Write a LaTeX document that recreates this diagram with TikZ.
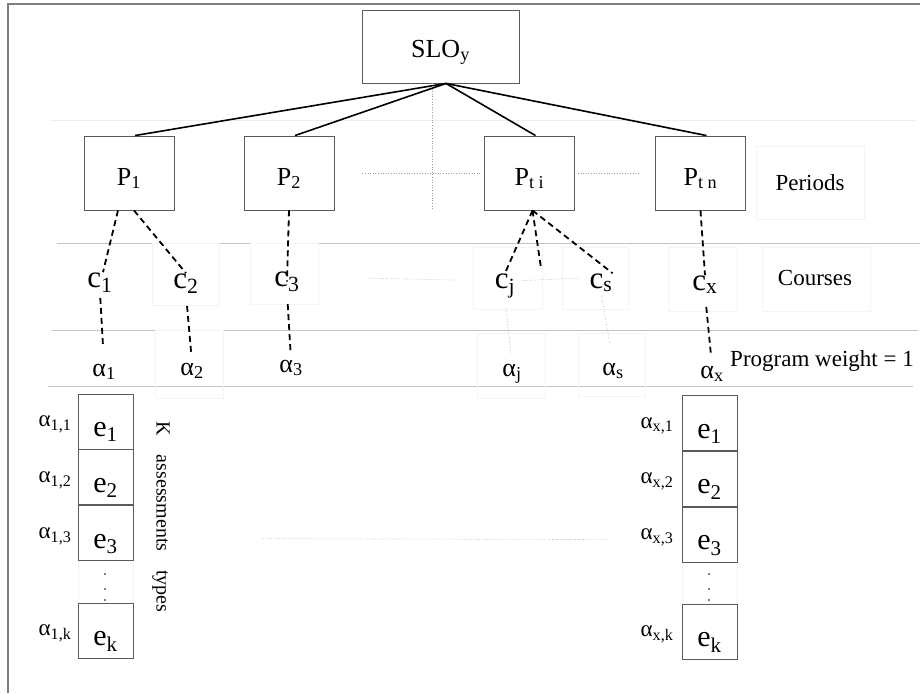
\documentclass[tikz,border=0pt]{standalone}
\usepackage{fontspec}
\setmainfont{Liberation Serif}
\usetikzlibrary{positioning}
\definecolor{ink}{HTML}{000000}
\definecolor{edge}{HTML}{5A5A5A}
\definecolor{frameline}{HTML}{7F7F7F}
\definecolor{ruleline}{HTML}{C4C4C4}
\definecolor{ghost}{HTML}{F4F4F4}
\definecolor{dotline}{HTML}{A0A0A0}
\newcommand{\fsz}[1]{\fontsize{#1}{#1}\selectfont}
\tikzset{
  box/.style={draw=edge,line width=0.9pt,fill=white,inner sep=0pt,text=ink},
  periodbox/.style={box,minimum width=90pt,minimum height=74pt,font=\fsz{26},
                    text height=24pt,text depth=0pt},
  evalbox/.style={box,minimum width=55pt,minimum height=55pt,font=\fsz{30},
                  text height=30pt,text depth=0pt},
  course/.style={inner sep=0pt,anchor=base,font=\fsz{31}},
  weight/.style={inner sep=0pt,anchor=base,font=\fsz{26}},
  rowlabel/.style={inner sep=0pt,anchor=base,font=\fsz{23}},
  evallabel/.style={inner sep=0pt,font=\fsz{23},text height=12pt,text depth=2pt},
  tree/.style={line width=1.6pt,draw=ink},
  dashlink/.style={line width=1.8pt,draw=ink,dash pattern=on 6pt off 4pt},
  faint/.style={line width=0.6pt,draw=dotline,dotted},
  rowrule/.style={line width=0.9pt,draw=ruleline},
  ghostbox/.style={draw=ghost,line width=0.5pt}
}

\begin{document}
\begin{tikzpicture}[x=1pt,y=-1pt]
  \useasboundingbox (0,0) rectangle (920,693);
  % frame and table rules
  \draw[draw=frameline,line width=1.4pt] (8,693) -- (8,4) -- (920,4);
  \draw[rowrule,draw=ruleline!30] (50,120) -- (915,120);
  \draw[rowrule] (57,243) -- (920,243);
  \draw[rowrule] (52,330) -- (918,330);
  \draw[rowrule] (48,386) -- (913,386);
  % leftover text frames
  \foreach \x/\y/\w/\h in {756/146/108/73, 152/243/67/62, 250/243/68/61, 155/330/68/68,
      473/247/69/62, 562/247/66/62, 668/247/69/64, 762/247/108/64, 477/333/68/65,
      578/333/67/63, 78/559/55/45, 682/561/55/43}
    \draw[ghostbox] (\x,\y) rectangle ++(\w,\h);

  % outcome and periods
  \node[box,minimum width=157pt,minimum height=73pt,font=\fsz{26},text height=21pt,text depth=0pt]
    (slo) at (440.5,46.5) {SLO\textsubscript{y}};
  \node[periodbox] (p1) at (129,173) {P\textsubscript{1}};
  \node[periodbox] (p2) at (289,173) {P\textsubscript{2}};
  \node[periodbox] (pti) at (529.5,173) {P\textsubscript{t i}};
  \node[periodbox] (ptn) at (700.5,173) {P\textsubscript{t n}};
  \node[rowlabel] (periods) at (810,190) {Periods};

  % courses
  \node[course] (c1) at (100,287) {c\textsubscript{1}};
  \node[course] (c2) at (186,288) {c\textsubscript{2}};
  \node[course] (c3) at (287,286) {c\textsubscript{3}};
  \node[course] (cj) at (505,288) {c\textsubscript{j}};
  \node[course] (cs) at (601,288) {c\textsubscript{s}};
  \node[course] (cx) at (705,290) {c\textsubscript{x}};
  \node[rowlabel] (courses) at (815,285) {Courses};
  \coordinate (cgap) at (541,268);

  % weights
  \node[weight] (a1) at (104,376) {α\textsubscript{1}};
  \node[weight] (a2) at (192,375) {α\textsubscript{2}};
  \node[weight] (a3) at (291,372) {α\textsubscript{3}};
  \node[weight] (aj) at (512,376) {α\textsubscript{j}};
  \node[weight] (as) at (613,375) {α\textsubscript{s}};
  \node[weight] (ax) at (712,378) {α\textsubscript{x}};
  \node[rowlabel] (progw) at (822,366) {Program weight = 1};

  % assessment stacks
  \node[evalbox] (l1) at (105.5,421.5) {e\textsubscript{1}};
  \node[evalbox,below=0pt of l1] (l2) {e\textsubscript{2}};
  \node[evalbox,below=0pt of l2] (l3) {e\textsubscript{3}};
  \node[evalbox] (lk) at (105.5,630.5) {e\textsubscript{k}};
  \node[evalbox] (r1) at (709.5,423) {e\textsubscript{1}};
  \node[evalbox,below=0pt of r1] (r2) {e\textsubscript{2}};
  \node[evalbox,below=0pt of r2] (r3) {e\textsubscript{3}};
  \node[evalbox] (rk) at (709.5,631.5) {e\textsubscript{k}};
  \foreach \n/\s in {l1/{1,1},l2/{1,2},l3/{1,3},lk/{1,k}}
    \node[evallabel,left=6pt of \n] (w\n) {α\textsubscript{\s}};
  \foreach \n/\s in {r1/{x,1},r2/{x,2},r3/{x,3},rk/{x,k}}
    \node[evallabel,left=8pt of \n] (w\n) {α\textsubscript{\s}};
  \foreach \y in {574,589,600} {
    \fill[ink] (105,\y) circle (0.9pt);
    \fill[ink] (709,\y) circle (0.9pt);
  }
  \node[font=\fsz{20},rotate=-90,inner sep=0pt] (ktypes) at (161,517)
    {K\hspace{0.95em}assessments\hspace{0.95em}types};

  % tree links
  \foreach \p in {p1,p2,pti,ptn}
    \draw[tree] ([xshift=5.5pt]slo.south) -- ([xshift=6pt]\p.north);
  \draw[dashlink] ([xshift=-11pt]p1.south) -- ([xshift=3pt]c1.north);
  \draw[dashlink] ([xshift=5pt]p1.south) -- (c2.north);
  \draw[dashlink] (p2.south) -- (c3.center);
  \draw[dashlink] ([xshift=3pt]pti.south) -- (cj.north);
  \draw[dashlink] ([xshift=3pt]pti.south) -- (cgap);
  \draw[dashlink] ([xshift=3pt]pti.south) -- (cs.north east);
  \draw[dashlink] (ptn.south) -- (cx.north);
  \draw[dashlink,shorten <=5pt,shorten >=18pt] (c1.south) -- (a1.north);
  \draw[dashlink,shorten <=12pt,shorten >=9pt] (c2.south) -- (a2.north);
  \draw[dashlink,shorten <=12pt,shorten >=9pt] (c3.south) -- (a3.north);
  \draw[dashlink,shorten <=13pt,shorten >=10pt] (cx.south) -- (ax.north);
  \draw[faint,shorten <=10pt,shorten >=9pt] (cj.south) -- (aj.north);
  \draw[faint,shorten <=4pt,shorten >=20pt] (cs.south) -- (as.north);

  % dotted gaps
  \draw[faint] ([xshift=-8.5pt]slo.south) -- ([xshift=-8.5pt]slo.south |- p1.south);
  \draw[faint,shorten <=28pt,shorten >=2pt] (p2.east) -- (pti.west);
  \draw[faint,shorten <=3pt,shorten >=17pt] (pti.east) -- (ptn.west);
  \draw[faint,shorten <=68pt,shorten >=39pt] ([yshift=5pt]c3.east) -- ([yshift=5pt]cj.west);
  \draw[faint,shorten <=7pt,shorten >=10pt] ([yshift=5pt]cj.east) -- ([yshift=5pt]cs.west);
  \draw[faint,shorten <=130pt,shorten >=72pt] ([yshift=-5pt]l3.east) -- ([yshift=-5pt]r3.west);
\end{tikzpicture}
\end{document}
